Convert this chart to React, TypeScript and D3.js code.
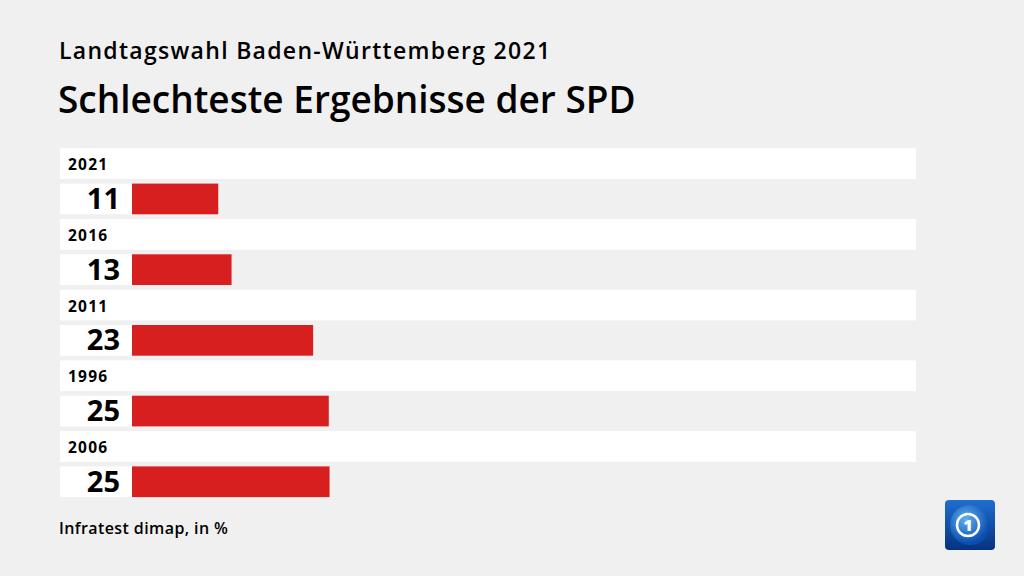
import React from "react";
import * as d3 from "d3";

const years = ["2021", "2016", "2011", "1996", "2006"];
const values = [11.0, 12.7, 23.1, 25.1, 25.2];
const valueLabels = ["11", "13", "23", "25", "25"];
const subtitle = "Landtagswahl Baden-Württemberg 2021";
const title = "Schlechteste Ergebnisse der SPD";
const source = "Infratest dimap, in %";

const W = 1024;
const H = 576;
const FONT = "'Open Sans', sans-serif";

export default function App() {
  const x = d3.scaleLinear().domain([0, 100]).range([132, 916]);
  const y = d3.scaleBand<string>().domain(years).range([148.3, 148.3 + 5 * 70.7]).paddingInner(0).paddingOuter(0);
  const bandH = 30.7;
  const gap = 4.6;

  return (
    <svg width={W} height={H} style={{ position: "absolute", left: 0, top: 0, display: "block" }}>
      <rect x={0} y={0} width={W} height={H} fill="#f0f0f0" />
      <text x={59} y={59} fontFamily={FONT} fontWeight={600} fontSize={23} letterSpacing={1.3} fill="#000">{subtitle}</text>
      <text x={58} y={113} fontFamily={FONT} fontWeight={600} fontSize={37} fill="#000">{title}</text>
      {years.map((yr, i) => {
        const top = y(yr) as number;
        const barTop = top + bandH + gap;
        return (
          <g key={yr}>
            <rect x={60} y={top} width={916 - 60} height={bandH} fill="#ffffff" />
            <text x={68} y={top + 21.8} fontFamily={FONT} fontWeight={700} fontSize={15.5} letterSpacing={1.2} fill="#000">{yr}</text>
            <rect x={60} y={barTop} width={x(0) - 60} height={bandH} fill="#ffffff" />
            <rect x={x(0)} y={barTop} width={x(values[i]) - x(0)} height={bandH} fill="#d81f1f" />
            <text x={120} y={barTop + 25.2} textAnchor="end" fontFamily={FONT} fontWeight={700} fontSize={29} fill="#000">{valueLabels[i]}</text>
          </g>
        );
      })}
      <text x={59} y={534} fontFamily={FONT} fontWeight={600} fontSize={16} letterSpacing={0.4} fill="#000">{source}</text>
      <defs>
        <linearGradient id="lg" x1="0" y1="0" x2="0" y2="1">
          <stop offset="0" stopColor="#1e6fd0" />
          <stop offset="1" stopColor="#06327f" />
        </linearGradient>
        <radialGradient id="rg" cx="0.4" cy="0.35" r="0.6">
          <stop offset="0" stopColor="#5fb0f2" />
          <stop offset="1" stopColor="#0b4fae" />
        </radialGradient>
      </defs>
      <g transform="translate(945,500)">
        <rect x={0} y={0} width={50} height={50} rx={4} fill="url(#lg)" />
        <circle cx={25} cy={25} r={20} fill="url(#rg)" />
        <circle cx={23} cy={25} r={11} fill="none" stroke="#ffffff" strokeWidth={2.5} />
        <text x={23} y={31} textAnchor="middle" fontFamily={FONT} fontWeight={800} fontSize={16} fill="#ffffff">1</text>
      </g>
    </svg>
  );
}
